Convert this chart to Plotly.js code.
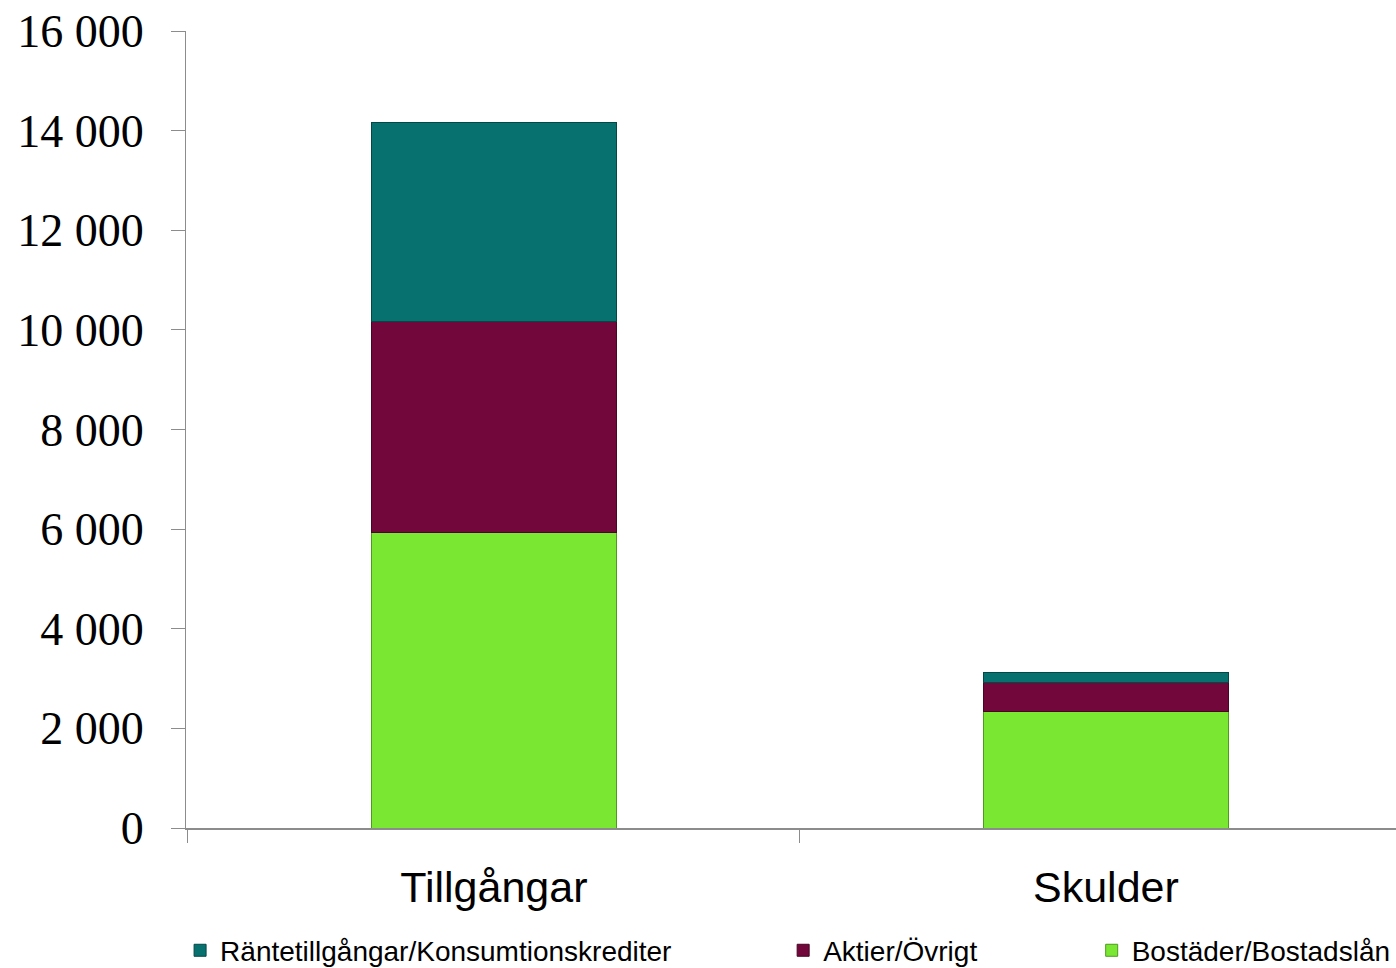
<!DOCTYPE html>
<html>
<head>
<meta charset="utf-8">
<script src="https://cdn.plot.ly/plotly-3.0.1.min.js"></script>
<style>html,body{margin:0;padding:0;background:#fff;}#chart{width:1396px;height:968px;}</style>
</head>
<body>
<div id="chart"></div>
<script>
const categories = ["Tillgångar", "Skulder"];
const seriesNames = ["Bostäder/Bostadslån", "Aktier/Övrigt", "Räntetillgångar/Konsumtionskrediter"];
const bostader = [5940, 2330];
const aktier = [4220, 600];
const ranta = [4000, 200];
const yTickVals = [0, 2000, 4000, 6000, 8000, 10000, 12000, 14000, 16000];

const colors = ["#7AE833", "#71073A", "#077170"];
const lineColors = ["#4E9A1E", "#4A0425", "#044846"];
const vals = [bostader, aktier, ranta];
const legendIds = ["legend3", "legend2", "legend"];

const traces = vals.map((v, i) => ({
  type: "bar",
  x: categories,
  y: v,
  name: seriesNames[i],
  legend: legendIds[i],
  marker: {color: colors[i], line: {color: lineColors[i], width: 1}},
  hoverinfo: "x+y+name"
}));

const sansFam = "Liberation Sans, Arial, sans-serif";
const legFont = {family: sansFam, size: 28, color: "#000"};
const legBase = {orientation: "h", xref: "container", yref: "container", yanchor: "middle", y: 0.018, xanchor: "left", font: legFont, bgcolor: "rgba(0,0,0,0)", itemwidth: 30, tracegroupgap: 0, borderwidth: 0};

const layout = {
  width: 1396, height: 968,
  margin: {l: 186, r: 0, t: 31, b: 140, autoexpand: false},
  paper_bgcolor: "#fff", plot_bgcolor: "#fff",
  barmode: "stack",
  bargap: 0.6,
  separators: ". ",
  showlegend: true,
  legend: Object.assign({}, legBase, {x: 0.129}),
  legend2: Object.assign({}, legBase, {x: 0.561}),
  legend3: Object.assign({}, legBase, {x: 0.782}),
  xaxis: {
    automargin: false,
    range: [-0.503, 1.474],
    showline: true, linecolor: "#8c8c8c", linewidth: 2,
    ticks: "outside", tickson: "boundaries", ticklen: 13, tickcolor: "#8c8c8c", tickwidth: 1,
    showgrid: false, zeroline: false,
    tickfont: {family: sansFam, size: 43, color: "#000"},
    ticklabelstandoff: 20
  },
  yaxis: {
    automargin: false,
    range: [0, 16000],
    tickvals: yTickVals,
    tickformat: ",d",
    showline: true, linecolor: "#8c8c8c", linewidth: 1,
    ticks: "outside", ticklen: 14, tickcolor: "#8c8c8c", tickwidth: 1,
    showgrid: false, zeroline: false,
    tickfont: {family: "Liberation Serif, Times New Roman, serif", size: 46, color: "#000"},
    ticklabelstandoff: 18
  }
};

Plotly.newPlot("chart", traces, layout, {displayModeBar: false, staticPlot: true});
</script>
</body>
</html>
